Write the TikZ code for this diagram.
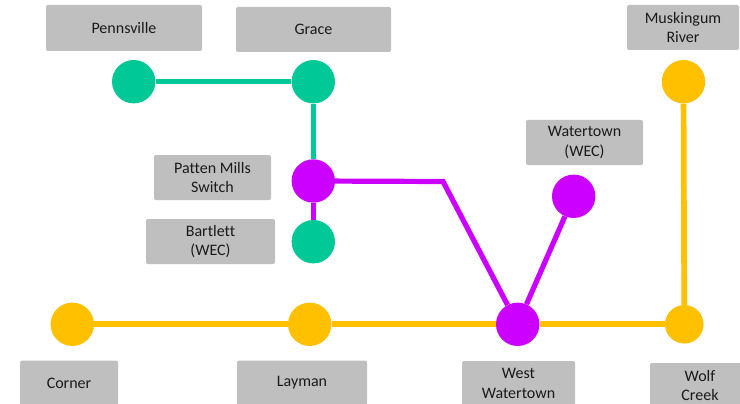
\documentclass[tikz,border=0pt]{standalone}
\usepackage{fontspec}
\setmainfont{Carlito}[Ligatures={NoCommon}]
\definecolor{teal}{HTML}{00C896}
\definecolor{purp}{HTML}{CC00FF}
\definecolor{gold}{HTML}{FFC000}
\definecolor{boxgray}{HTML}{BFBFBF}
\definecolor{txt}{HTML}{1A1A1A}
\begin{document}
\begin{tikzpicture}[x=1pt,y=-1pt,
  lbl/.style={fill=boxgray, rounded corners=2pt, inner sep=0pt, align=center,
    font=\fontsize{16}{19.5}\selectfont, text=txt},
  stn/.style={circle, inner sep=0pt, minimum size=43.4pt},
  tline/.style={draw=teal, line width=5.2pt},
  pline/.style={draw=purp, line width=5.2pt},
  yline/.style={draw=gold, line width=5.7pt}]
\useasboundingbox (0,0) rectangle (740,404);
\clip (0,0) rectangle (740,404);
% labels
\node[lbl, minimum width=156pt, minimum height=46pt] (lpen) at (124,28) {Pennsville};
\node[lbl, minimum width=155pt, minimum height=45pt] (lgra) at (313.5,29.5) {Grace};
\node[lbl, minimum width=112pt, minimum height=45pt] (lmus) at (683,27.5) {Muskingum\\River};
\node[lbl, minimum width=117pt, minimum height=45pt] (lwat) at (584.5,142.5) {Watertown\\(WEC)};
\node[lbl, minimum width=117pt, minimum height=45pt] (lpat) at (212.5,177.5) {Patten Mills\\Switch};
\node[lbl, minimum width=129pt, minimum height=45pt] (lbar) at (210.5,241.5) {Bartlett\\(WEC)};
\node[lbl, minimum width=98pt, minimum height=45pt] (lcor) at (69,383) {Corner};
\node[lbl, minimum width=130pt, minimum height=45pt] (llay) at (302,383) {Layman};
\node[lbl, minimum width=113pt, minimum height=45pt] (lww) at (518.5,383.5) {West\\Watertown};
\node[lbl, minimum width=100pt, minimum height=45pt] (lwc) at (700,385.5) {Wolf\\Creek};
% stations
\node[stn, fill=teal] (pen) at (133.7,81.7) {};
\node[stn, fill=teal] (gra) at (313.3,81.7) {};
\node[stn, fill=purp] (pat) at (313.3,181) {};
\node[stn, fill=teal] (bar) at (313.3,241.7) {};
\node[stn, fill=gold] (mus) at (683.5,81.7) {};
\node[stn, fill=purp] (wat) at (573.7,196.3) {};
\node[stn, fill=gold] (cor) at (72.3,324.3) {};
\node[stn, fill=gold] (lay) at (309.7,324.3) {};
\node[stn, fill=purp] (ww) at (517.7,324.3) {};
\node[stn, fill=gold, minimum size=38.5pt] (wc) at (684.3,324.3) {};
\coordinate (bend) at (443,181.5);
% connectors
\path[tline] (pen) -- (gra);
\path[tline] (gra) -- (pat);
\path[pline] (pat) -- (bar);
\path[pline, line join=miter] (pat) -- (bend) -- (ww);
\path[pline] (wat) -- (ww);
\path[yline] (cor) -- (lay);
\path[yline] (lay) -- (ww);
\path[yline] (ww) -- (wc);
\path[yline] (mus) -- (wc);
\end{tikzpicture}
\end{document}
